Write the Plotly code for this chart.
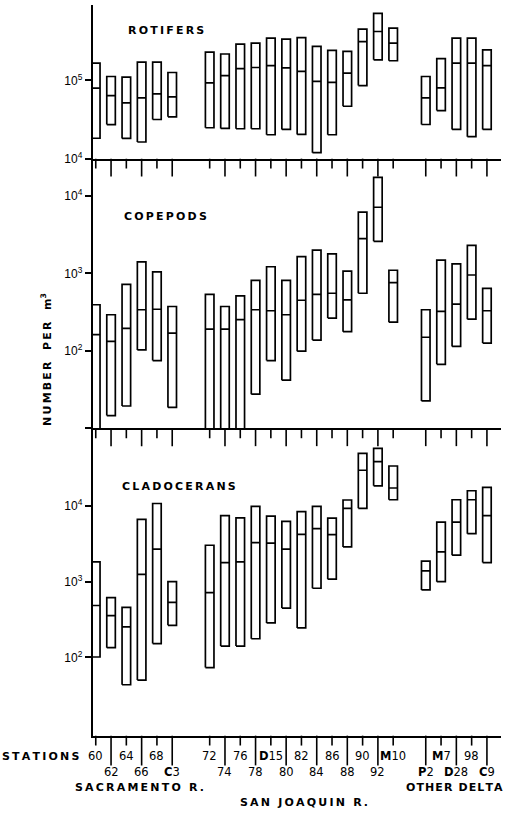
import plotly.graph_objects as go

# ---------------- data ----------------
stations_sac = ["60", "62", "64", "66", "68", "C3"]
stations_sj = ["72", "74", "76", "78", "D15", "80", "82", "84", "86", "88", "90", "92", "M10"]
stations_oth = ["P2", "M7", "D28", "98", "C9"]
stations = stations_sac + stations_sj + stations_oth

# Rotifers (number per m3): low, median, high
rot_low = [18200, 27200, 18100, 16300, 31600, 34200,
           24800, 24300, 24100, 24100, 20200, 23600, 20400, 11900, 20200, 46700, 85700, 183000, 178000,
           27300, 41100, 23600, 19100, 23600]
rot_med = [79400, 63800, 51500, 59700, 67100, 61500,
           92700, 115000, 141000, 146000, 154000, 144000, 130000, 97000, 94400, 124000, 313000, 421000, 299000,
           59700, 80000, 166000, 166000, 154000]
rot_high = [166000, 112000, 110000, 171000, 171000, 126000,
            230000, 217000, 290000, 299000, 346000, 337000, 352000, 271000, 241000, 234000, 451000, 719000, 465000,
            112000, 189000, 346000, 346000, 245000]

# Copepods (values of 8 run off the bottom of the scale)
cop_low = [8, 14.6, 19.4, 103, 75, 18.6,
           8, 8, 8, 27.6, 75, 41.8, 99, 138, 265, 177, 555, 2600, 235,
           22.6, 67, 114, 257, 126]
cop_med = [162, 133, 195, 340, 345, 170,
           191, 191, 253, 340, 330, 293, 451, 538, 555, 456, 2810, 7160, 759,
           150, 323, 401, 955, 330]
cop_high = [394, 293, 723, 1410, 1050, 374,
            538, 374, 513, 813, 1220, 813, 1650, 2000, 1790, 1070, 6180, 17400, 1100,
            340, 1490, 1330, 2310, 643]

# Cladocerans
cla_low = [101, 134, 43.4, 50, 152, 265,
           73.3, 141, 141, 176, 285, 448, 245, 818, 1080, 2880, 9330, 18500, 12100,
           778, 1000, 2240, 4310, 1790]
cla_med = [484, 355, 252, 1250, 2690, 531,
           718, 1790, 1830, 3280, 3240, 2690, 4220, 5010, 4180, 9330, 29700, 38500, 17300,
           1390, 2470, 6110, 12100, 7480]
cla_high = [1830, 617, 456, 6640, 10800, 1000,
            3030, 7480, 6980, 9910, 7330, 6250, 8450, 9910, 6900, 12000, 49700, 57700, 33800,
            1870, 6110, 12100, 15900, 17600]

panel_titles = ["ROTIFERS", "COPEPODS", "CLADOCERANS"]
region_names = ["SACRAMENTO R.", "SAN JOAQUIN R.", "OTHER DELTA"]

# ---------------- positions ----------------
group_starts = [0.0, 7.45, 21.58]
xpos = []
for start, grp in zip(group_starts, [stations_sac, stations_sj, stations_oth]):
    xpos += [start + i for i in range(len(grp))]

W, H = 512, 817
X0, X1 = 92.7, 501.0
XR = [-0.2, 26.5]
panels = [
    dict(top=5, bot=160, rng=[4.0, 5.963], tv=[1e4, 1e5], tt=["10<sup>4</sup>", "10<sup>5</sup>"],
         short=10, long=18),
    dict(top=160, bot=432, rng=[1.0, 4.483], tv=[1e1, 1e2, 1e3, 1e4],
         tt=[" ", "10<sup>2</sup>", "10<sup>3</sup>", "10<sup>4</sup>"], short=10, long=18),
    dict(top=432, bot=742, rng=[0.965, 5.027], tv=[1e2, 1e3, 1e4],
         tt=["10<sup>2</sup>", "10<sup>3</sup>", "10<sup>4</sup>"], short=10, long=30),
]
series = [(rot_low, rot_med, rot_high), (cop_low, cop_med, cop_high), (cla_low, cla_med, cla_high)]


def px(xp):
    return xp / W


def py(yp):
    return 1 - yp / H


hw = 0.28
fig = go.Figure()
layout = dict(width=W, height=H, margin=dict(l=0, r=0, t=0, b=0),
              paper_bgcolor="white", plot_bgcolor="rgba(0,0,0,0)", showlegend=False,
              font=dict(family="Liberation Sans, Arial, sans-serif", color="black"))
shapes = []

for k, (p, (lo, me, hi)) in enumerate(zip(panels, series)):
    n = "" if k == 0 else str(k + 1)
    xs, ys, mx, my = [], [], [], []
    for x, l, m, h in zip(xpos, lo, me, hi):
        xs += [x - hw, x + hw, x + hw, x - hw, x - hw, None]
        ys += [l, l, h, h, l, None]
        mx += [x - hw, x + hw, None]
        my += [m, m, None]
    fig.add_trace(go.Scatter(x=xs, y=ys, mode="lines", line=dict(color="black", width=1.7),
                             xaxis="x" + n, yaxis="y" + n, hoverinfo="skip"))
    fig.add_trace(go.Scatter(x=mx, y=my, mode="lines", line=dict(color="black", width=1.7),
                             xaxis="x" + n, yaxis="y" + n, hoverinfo="skip"))
    layout["xaxis" + n] = dict(
        domain=[px(X0), px(X1)], range=XR, anchor="y" + n,
        showline=True, linecolor="black", linewidth=2, showgrid=False, zeroline=False,
        ticks="", showticklabels=False,
    )
    layout["yaxis" + n] = dict(
        domain=[py(p["bot"]), py(p["top"])], type="log", range=p["rng"], anchor="x" + n,
        showline=True, linecolor="black", linewidth=2, showgrid=False, zeroline=False,
        ticks="outside", ticklen=6, tickwidth=1.6, tickcolor="black",
        tickmode="array", tickvals=p["tv"], ticktext=p["tt"],
        tickfont=dict(size=12, family="Liberation Sans, Arial, sans-serif"),
    )
    # station ticks hanging below each panel, alternating short / long
    for i, x in enumerate(xpos):
        L = p["short"] if i % 2 == 0 else p["long"]
        shapes.append(dict(type="line", xref="x" + n, yref="paper", x0=x, x1=x,
                           y0=py(p["bot"]), y1=py(p["bot"] + L),
                           line=dict(color="black", width=1.6), layer="above"))

layout["shapes"] = shapes
fig.update_layout(**layout)

tsp = "\u2009"
hsp = "\u200a"


def spaced(s, sep=tsp):
    return sep.join(list(s))


BOLD = dict(size=11, family="DejaVu Sans")
ann = []
title_pos = [(126, 31), (122, 218), (120, 491)]
for t, (x, y) in zip(panel_titles, title_pos):
    ann.append(dict(text="<b>" + spaced(t) + "</b>", x=px(x), y=py(y), xref="paper", yref="paper",
                    xanchor="left", yanchor="middle", showarrow=False, font=BOLD))


def fmt(s):
    if s[0].isalpha():
        return "<b>" + s[0] + "</b>" + s[1:]
    return s


for i, s in enumerate(stations):
    yrow = 763 if i % 2 == 0 else 778.5
    ann.append(dict(text=fmt(s), x=xpos[i], y=py(yrow), xref="x3", yref="paper",
                    xanchor="center", yanchor="middle", showarrow=False,
                    font=dict(size=11.5, family="DejaVu Sans")))

ann.append(dict(text="<b>" + spaced("STATIONS") + "</b>", x=px(0), y=py(763), xref="paper", yref="paper",
                xanchor="left", yanchor="middle", showarrow=False, font=BOLD))
region_pos = [(73, 794, tsp), (238, 809, tsp), (404, 794, hsp)]
for t, (x, y, sep) in zip(region_names, region_pos):
    ann.append(dict(text="<b>" + spaced(t, sep) + "</b>", x=px(x), y=py(y), xref="paper", yref="paper",
                    xanchor="left", yanchor="middle", showarrow=False, font=BOLD))

ann.append(dict(text="<b>" + spaced("NUMBER") + "   " + spaced("PER") + "   m<sup>3</sup></b>",
                x=px(47), y=py(363), xref="paper", yref="paper", textangle=-90,
                xanchor="center", yanchor="middle", showarrow=False, font=BOLD))

fig.update_layout(annotations=ann)
fig.write_html("out.html", config={"displayModeBar": False},
               post_script="document.body.style.margin='0px';document.body.style.overflow='hidden';")
